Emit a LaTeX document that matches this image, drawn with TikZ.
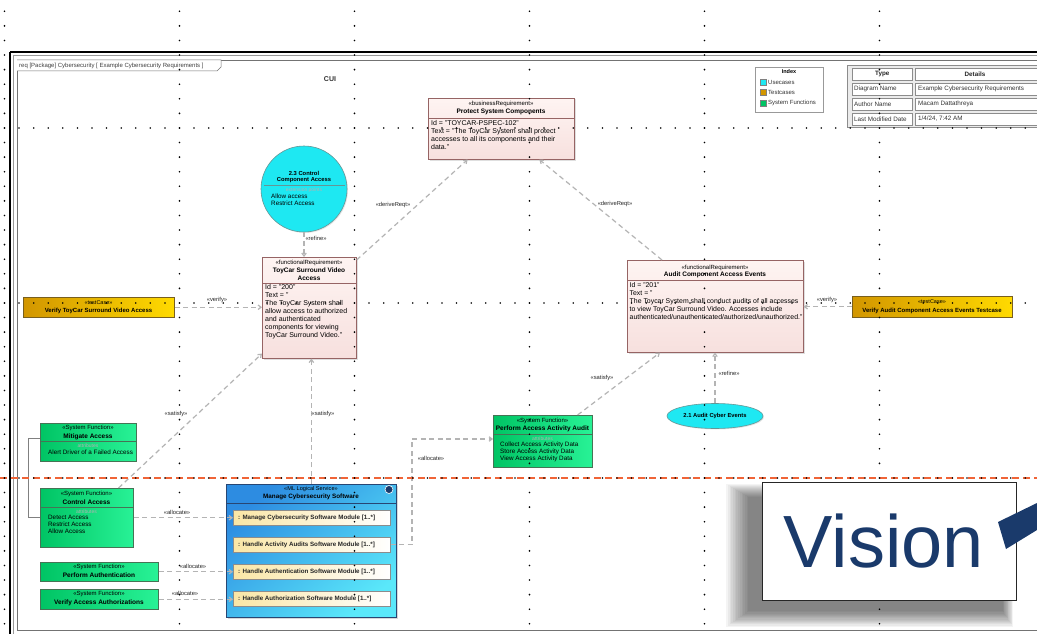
\documentclass[tikz,border=0pt]{standalone}
\usepackage{fontspec}
\setmainfont{Liberation Sans}
\usetikzlibrary{arrows.meta,calc,shapes.geometric,shadows}
\newcommand\myfs[2]{\fontsize{#1}{#2}\selectfont}
\definecolor{reqfill}{RGB}{254,244,242}
\definecolor{reqfill2}{RGB}{247,224,222}
\definecolor{reqdraw}{RGB}{150,100,100}
\definecolor{ucfill}{RGB}{30,232,242}
\definecolor{ucdraw}{RGB}{100,150,150}
\definecolor{tcl}{RGB}{210,150,0}
\definecolor{tcr}{RGB}{255,218,0}
\definecolor{tcdraw}{RGB}{120,95,30}
\definecolor{sfl}{RGB}{0,196,100}
\definecolor{sfr}{RGB}{40,242,150}
\definecolor{sfdraw}{RGB}{70,115,85}
\definecolor{lsl}{RGB}{45,140,225}
\definecolor{lsr}{RGB}{90,232,250}
\definecolor{lsdraw}{RGB}{40,70,115}
\definecolor{modl}{RGB}{250,230,165}
\definecolor{conn}{RGB}{180,180,180}
\definecolor{orangeline}{RGB}{240,100,55}
\definecolor{navy}{RGB}{26,58,107}
\tikzset{
  every node/.style={inner sep=0pt},
  reqbox/.style={draw=reqdraw, line width=0.6pt, top color=reqfill, bottom color=reqfill2, anchor=north west,
     drop shadow={opacity=0.25, shadow xshift=1.2pt, shadow yshift=-1.2pt}},
  sfbox/.style={draw=sfdraw, line width=0.5pt, left color=sfl, right color=sfr, anchor=north west,
     drop shadow={opacity=0.25, shadow xshift=1.2pt, shadow yshift=-1.2pt}},
  tcbox/.style={draw=tcdraw, line width=0.5pt, left color=tcl, right color=tcr, anchor=north west,
     drop shadow={opacity=0.25, shadow xshift=1.2pt, shadow yshift=-1.2pt}},
  modbox/.style={draw=black!45, line width=0.5pt, left color=modl, right color=white, anchor=north west,
     minimum width=157pt, minimum height=15pt,
     drop shadow={opacity=0.3, shadow xshift=1pt, shadow yshift=-1pt}},
  ster/.style={font=\myfs{6}{7}},
  nm/.style={font=\bfseries\myfs{6.5}{7.5}},
  bodytxt/.style={font=\myfs{7}{8}, align=left, anchor=north west},
  attr/.style={font=\myfs{6.3}{7}, align=left, anchor=north west},
  faint/.style={font=\myfs{5}{6}, text=black!30},
  lbl/.style={font=\myfs{5.8}{6}, text=black!85},
  conline/.style={draw=conn, line width=1.2pt, dash pattern=on 5pt off 3.5pt},
  tip/.style={-{Straight Barb[length=3pt,width=4.5pt]}},
  divline/.style={line width=0.5pt},
  cell/.style={draw=black!45, line width=0.5pt, fill=white, anchor=north west},
  celltxt/.style={font=\myfs{6.3}{7}, text=black!80, anchor=west},
}
\begin{document}
\begin{tikzpicture}[x=1pt,y=-1pt]
\useasboundingbox (0,0) rectangle (1037,634);
\clip (0,0) rectangle (1037,634);
\fill[white] (0,0) rectangle (1037,634);

% ---------- frames ----------
\draw[line width=2pt] (10,52) -- (1050,52);
\draw[line width=2pt] (10,52) -- (10,640);
\draw[black!40, line width=0.5pt] (13,55) -- (1050,55);
\draw[black!40, line width=0.5pt] (13,55) -- (13,640);
\draw[black!55, line width=0.6pt] (17,60) rectangle (1050,630);
\draw[black!55, fill=white, line width=0.5pt] (17,60) -- (221,60) -- (221,67) -- (217,71) -- (17,71);
\node[anchor=west, font=\myfs{6}{7}, text=black!75] (tab) at (19,65.8)
  {req [Package] Cybersecurity [ Example Cybersecurity Requirements ]};
\node[font=\bfseries\myfs{7}{8}, text=black!80] (cui) at (330,79) {CUI};

% ---------- legend ----------
\node[draw=black!40, line width=0.5pt, fill=white, anchor=north west, minimum width=68pt, minimum height=45pt,
      drop shadow={opacity=0.2, shadow xshift=1pt, shadow yshift=-1pt}] (legend) at (755,67) {};
\node[font=\bfseries\myfs{5.5}{6}] (legtitle) at (789,72) {Index};
\node[draw=black!50, fill=ucfill, minimum size=6pt, line width=0.4pt] (lg1) at (763,82) {};
\node[draw=black!50, fill=tcl, minimum size=6pt, line width=0.4pt] (lg2) at (763,92.5) {};
\node[draw=black!50, fill=sfl, minimum size=6pt, line width=0.4pt] (lg3) at (763,103) {};
\node[anchor=west, font=\myfs{6}{7}, text=black!80] (lt1) at (768,82) {Usecases};
\node[anchor=west, font=\myfs{6}{7}, text=black!80] (lt2) at (768,92.5) {Testcases};
\node[anchor=west, font=\myfs{6}{7}, text=black!80] (lt3) at (768,103) {System Functions};

% ---------- table ----------
\node[draw=black!45, line width=0.8pt, fill=black!8, anchor=north west, minimum width=195pt, minimum height=62pt] (table) at (847,65) {};
\node[cell, minimum width=60pt, minimum height=12pt] (c11) at (852,68) {};
\node[cell, minimum width=122pt, minimum height=12pt] (c12) at (915,68) {};
\node[cell, minimum width=60pt, minimum height=12pt] (c21) at (852,83) {};
\node[cell, minimum width=122pt, minimum height=12pt] (c22) at (915,83) {};
\node[cell, minimum width=60pt, minimum height=12pt] (c31) at (852,98) {};
\node[cell, minimum width=122pt, minimum height=12pt] (c32) at (915,98) {};
\node[cell, minimum width=60pt, minimum height=12pt] (c41) at (852,113) {};
\node[cell, minimum width=122pt, minimum height=12pt] (c42) at (915,113) {};
\node[font=\bfseries\myfs{6.3}{7}, text=black!85] at (c11) {Type};
\node[font=\bfseries\myfs{6.3}{7}, text=black!85] at (975,74) {Details};
\node[celltxt] at (854,89) {Diagram Name};
\node[celltxt] at (918,89) {Example Cybersecurity Requirements};
\node[celltxt] at (854,104) {Author Name};
\node[celltxt] at (918,104) {Macam Dattathreya};
\node[celltxt] at (854,119) {Last Modified Date};
\node[celltxt] at (918,119) {1/4/24, 7:42 AM};

% ---------- business requirement ----------
\node[reqbox, minimum width=146pt, minimum height=61pt] (br) at (428,98) {};
\node[ster] at (501,104) {«businessRequirement»};
\node[nm] at (501,112) {Protect System Components};
\draw[reqdraw, divline] (428,118) -- (574,118);
\node[bodytxt] (brbody) at (431,120.5) {Id = "TOYCAR-PSPEC-102"\\Text = "The ToyCar System shall protect\\accesses to all its components and their\\data."};

% ---------- use case circle ----------
\node[circle, draw=ucdraw, fill=ucfill, line width=0.6pt, minimum size=86pt,
      drop shadow={opacity=0.2, shadow xshift=1pt, shadow yshift=-1pt}] (cca) at (304,189) {};
\node[font=\bfseries\myfs{5.8}{6.5}] at (304,173) {2.3 Control};
\node[font=\bfseries\myfs{5.8}{6.5}] at (304,180) {Component Access};
\draw[ucdraw, divline] (263.5,185) -- (344.5,185);
\node[faint] at (304,190) {extension points};
\node[attr] at (271,193.5) {Allow access\\Restrict Access};

% ---------- TCS requirement ----------
\node[reqbox, minimum width=94pt, minimum height=101pt] (tcs) at (262,257) {};
\node[ster] at (309,263) {«functionalRequirement»};
\node[nm] at (309,270.5) {ToyCar Surround Video};
\node[nm] at (309,278) {Access};
\draw[reqdraw, divline] (262,283) -- (356,283);
\node[bodytxt] (tcsbody) at (265,284.5) {Id = "200"\\Text = "\\The ToyCar System shall\\allow access to authorized\\and authenticated\\components for viewing\\ToyCar Surround Video."};

% ---------- Audit requirement ----------
\node[reqbox, minimum width=176pt, minimum height=92pt] (ace) at (627,260) {};
\node[ster] at (715,267.5) {«functionalRequirement»};
\node[nm] at (715,275) {Audit Component Access Events};
\draw[reqdraw, divline] (627,280) -- (803,280);
\node[bodytxt, font=\myfs{6.9}{8}] (acebody) at (629.5,282.5) {Id = "201"\\Text = "\\The Toycar System shall conduct audits of all accesses\\to view ToyCar Surround Video. Accesses include\\authenticated/unauthenticated/authorized/unauthorized."};

% ---------- test cases ----------
\node[tcbox, minimum width=151pt, minimum height=20pt] (tc1) at (23,297) {};
\node[font=\myfs{5.5}{6}] at (98.5,302.5) {«testCase»};
\node[font=\bfseries\myfs{6}{7}] at (98.5,311) {Verify ToyCar Surround Video Access};
\node[tcbox, minimum width=160pt, minimum height=21pt] (tc2) at (852,296) {};
\node[font=\myfs{5.5}{6}] at (932,302) {«testCase»};
\node[font=\bfseries\myfs{6}{7}] at (932,311) {Verify Audit Component Access Events Testcase};

% ---------- Audit cyber events use case ----------
\node[ellipse, draw=ucdraw, fill=ucfill, line width=0.6pt, minimum width=96pt, minimum height=25pt,
      drop shadow={opacity=0.2, shadow xshift=1pt, shadow yshift=-1pt}] (ae) at (715,416) {};
\node[font=\bfseries\myfs{5.8}{6.5}] at (715,416) {2.1 Audit Cyber Events};

% ---------- Perform Access Activity Audit ----------
\node[sfbox, minimum width=99pt, minimum height=52pt] (paa) at (493,415) {};
\node[ster] at (542.5,421) {«System Function»};
\node[nm] at (542.5,429) {Perform Access Activity Audit};
\draw[sfdraw, divline] (493,434.5) -- (592,434.5);
\node[faint] at (542.5,438.5) {attributes};
\node[attr] at (500,441.5) {Collect Access Activity Data\\Store Access Activity Data\\View Access Activity Data};

% ---------- left system functions ----------
\node[sfbox, minimum width=96pt, minimum height=38pt] (ma) at (40,423) {};
\node[ster] at (88,428) {«System Function»};
\node[nm] at (88,436.5) {Mitigate Access};
\draw[sfdraw, divline] (40,441.5) -- (136,441.5);
\node[faint] at (88,446) {attributes};
\node[attr] at (48,450) {Alert Driver of a Failed Access};

\node[sfbox, minimum width=93pt, minimum height=59pt] (ca) at (40,488) {};
\node[ster] at (86.5,493.5) {«System Function»};
\node[nm] at (86.5,502) {Control Access};
\draw[sfdraw, divline] (40,507.5) -- (133,507.5);
\node[faint] at (86.5,512) {attributes};
\node[attr] at (48,515) {Detect Access\\Restrict Access\\Allow Access};

\node[sfbox, minimum width=118pt, minimum height=19pt] (pa) at (40,562) {};
\node[ster] at (99,566.5) {«System Function»};
\node[nm] at (99,575) {Perform Authentication};

\node[sfbox, minimum width=118pt, minimum height=20pt] (va) at (40,589) {};
\node[ster] at (99,594) {«System Function»};
\node[nm] at (99,603) {Verify Access Authorizations};

\draw[black!50, line width=0.7pt] ($(ma.west)+(0,-4)$) -- ++(-12,0) |- (ca.west);

% ---------- Manage Cybersecurity Software ----------
\node[draw=lsdraw, line width=0.8pt, top color=lsl, bottom color=lsr, shading angle=40, anchor=north west,
      minimum width=170pt, minimum height=133pt,
      drop shadow={opacity=0.3, shadow xshift=1.5pt, shadow yshift=-1.5pt}] (mcs) at (226,484) {};
\node[font=\myfs{5.6}{6}] at (311,489.5) {«ML Logical Service»};
\node[font=\bfseries\myfs{6.3}{7}] at (311,497) {Manage Cybersecurity Software};
\draw[lsdraw, divline] (226,503) -- (396,503);
\node[circle, fill=navy, draw=white, line width=0.6pt, minimum size=8pt] (icon) at (389,489.5) {};
\node[modbox] (m1) at (233,510) {};
\node[modbox] (m2) at (233,537) {};
\node[modbox] (m3) at (233,564) {};
\node[modbox] (m4) at (233,591) {};
\node[anchor=west, font=\bfseries\myfs{6.2}{7}, text=black!85] at ($(m1.west)+(5,0)$) {: Manage Cybersecurity Software Module [1..*]};
\node[anchor=west, font=\bfseries\myfs{6.2}{7}, text=black!85] at ($(m2.west)+(5,0)$) {: Handle Activity Audits Software Module [1..*]};
\node[anchor=west, font=\bfseries\myfs{6.2}{7}, text=black!85] at ($(m3.west)+(5,0)$) {: Handle Authentication Software Module [1..*]};
\node[anchor=west, font=\bfseries\myfs{6.2}{7}, text=black!85] at ($(m4.west)+(5,0)$) {: Handle Authorization Software Module [1..*]};

% ---------- connectors ----------
\draw[conline, tip] ($(tcs.north east)+(0,3)$) -- ($(br.south west)!0.27!(br.south east)$);
\node[lbl] at (393,205) {«deriveReqt»};
\draw[conline, tip] ($(ace.north west)+(35,0)$) -- ($(br.south west)!0.76!(br.south east)$);
\node[lbl] at (615,204) {«deriveReqt»};

\draw[conline, tip] (cca.south) -- (cca.south |- tcs.north);
\node[lbl] at (316,238) {«refine»};

\draw[conline, tip] (tc1.east) -- (tc1.east -| tcs.west);
\node[lbl] at (217,300) {«verify»};
\draw[conline, tip] (tc2.west) -- (tc2.west -| ace.east);
\node[lbl] at (827,300) {«verify»};

\draw[conline, tip] (mcs.north) -- (mcs.north |- tcs.south);
\node[lbl] at (323,414) {«satisfy»};
\draw[conline, tip] ($(ca.north west)!0.84!(ca.north east)$) -- ($(tcs.south west)+(0,-5)$);
\node[lbl] at (176,414) {«satisfy»};

\draw[conline, tip] ($(paa.north west)!0.85!(paa.north east)$) -- ($(ace.south west)+(33,0)$);
\node[lbl] at (602,378) {«satisfy»};
\draw[conline, tip] (ae.north) -- (ae.north |- ace.south);
\node[lbl] at (729,373) {«refine»};

\draw[conline, tip] (ca.east) -- (ca.east -| m1.west);
\node[lbl] at (177,512) {«allocate»};
\draw[conline, tip] (pa.east) -- (pa.east -| m3.west);
\node[lbl] at (193,566) {«allocate»};
\draw[conline, tip] (va.east) -- (va.east -| m4.west);
\node[lbl] at (185,593) {«allocate»};
\coordinate (bend) at (412,439);
\draw[conline, tip] (m2.east) -| (bend) -- (bend -| paa.west);
\node[lbl] at (431,458) {«allocate»};

% ---------- orange separator ----------
\draw[orangeline, line width=1.4pt, dash pattern=on 7pt off 4pt] (0,478) -- (1037,478);

% ---------- grid dots ----------
\foreach \gx in {4.5,179.5,354.5,529.5,704.5,879.5}{
  \foreach \j in {0,...,43}{
    \fill[black] (\gx,11.3+\j*14.5833) circle (0.9pt);
  }
}
\foreach \gy in {128,303,478}{
  \foreach \i in {0,...,71}{
    \fill[black] (4.5+\i*14.5833,\gy) circle (0.9pt);
  }
}

% ---------- Vision logo overlay ----------
\foreach \k in {1,...,14}{
  \fill[black, opacity=0.045] (750-\k*1.7,498-\k*1.0) rectangle (1002+\k*0.8,610+\k*1.2);
}
\node[draw=black!85, line width=1.2pt, fill=white, anchor=north west, minimum width=254pt, minimum height=118pt] (logo) at (762,482) {};
\node[font=\myfs{74}{74}, text=navy, anchor=base] (vision) at (884,567) {Vision};
\fill[navy] (998,522) -- (1037,503) -- (1037,530) -- (1006,549) -- cycle;
\end{tikzpicture}
\end{document}
